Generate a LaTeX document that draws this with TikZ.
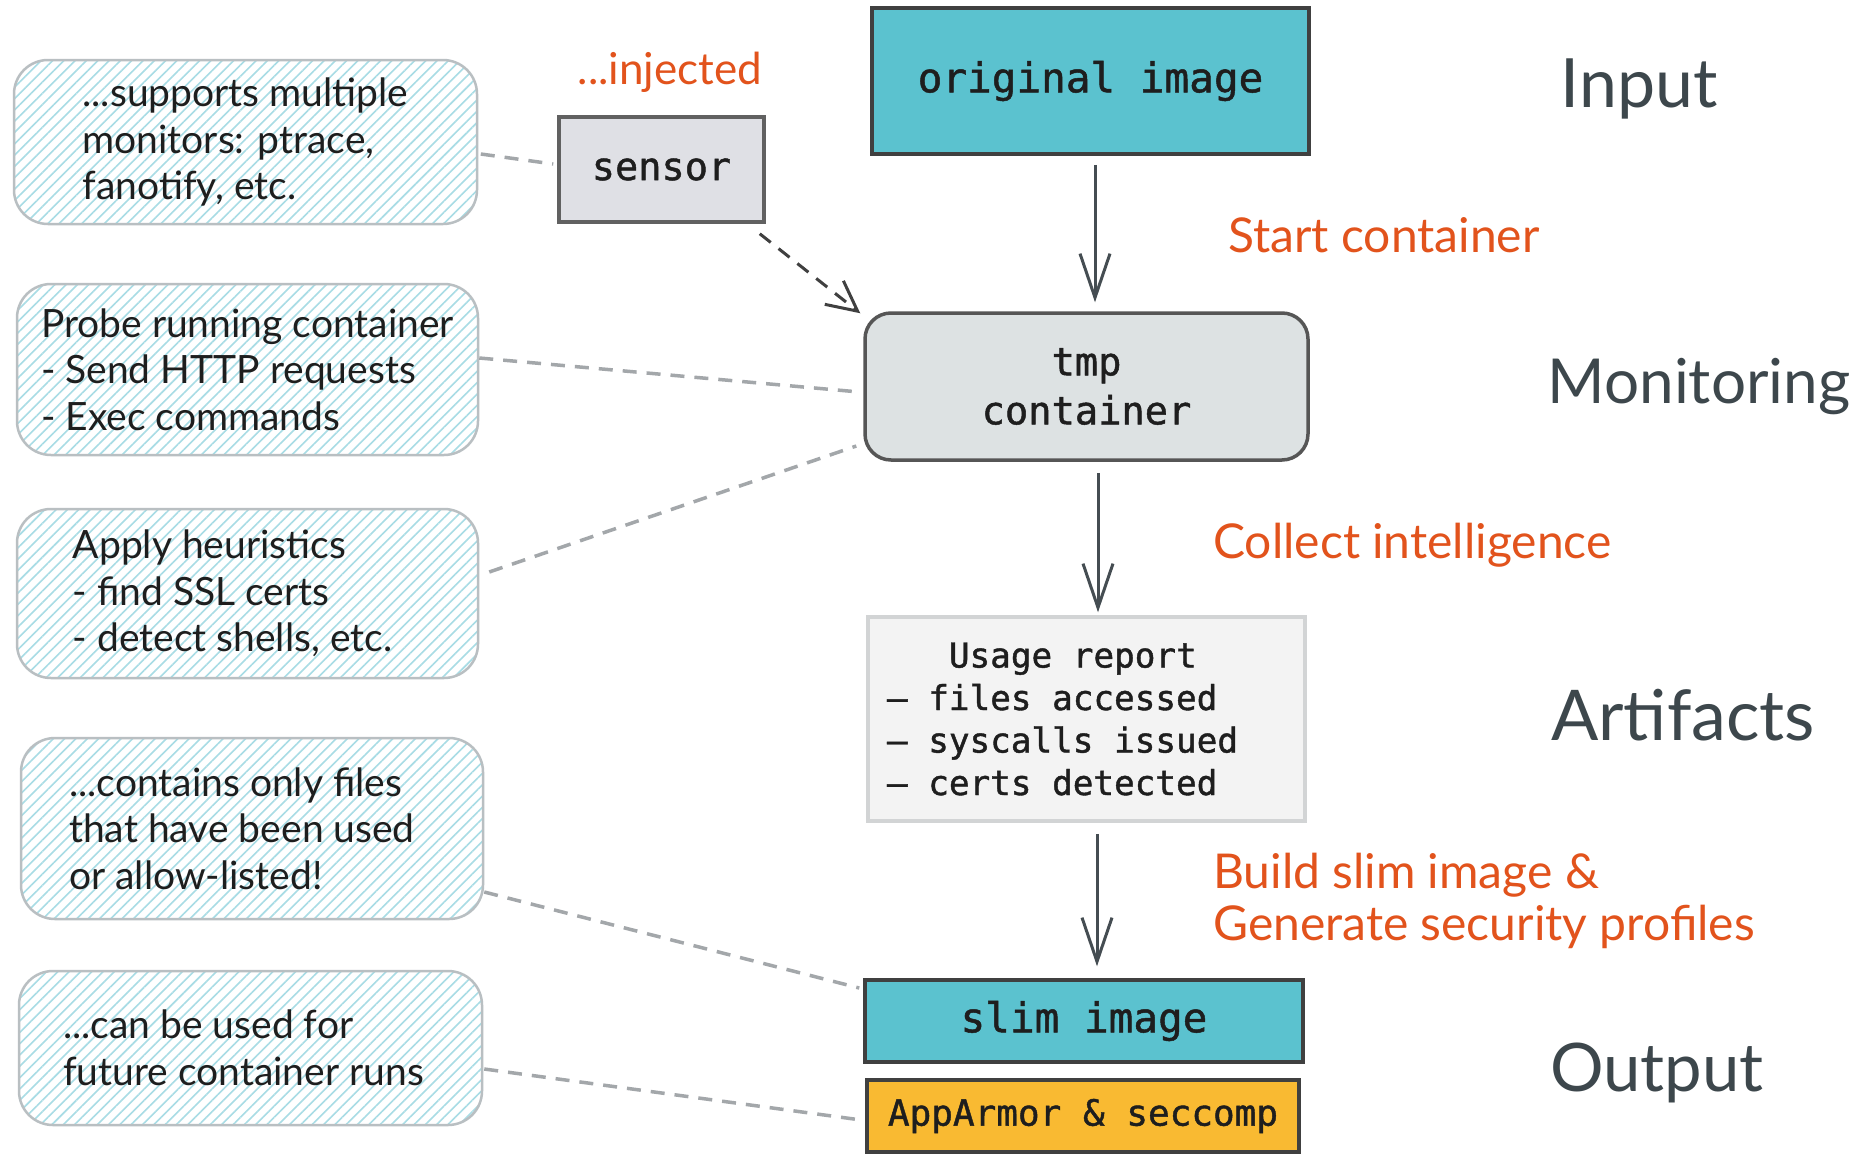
\documentclass[tikz,border=0pt]{standalone}
\usepackage{fontspec}
\setmainfont{Lato}
\setmonofont{DejaVu Sans Mono}[FakeBold=1.2]
\usetikzlibrary{arrows.meta,patterns.meta}
\definecolor{ink}{HTML}{1E1E1E}
\definecolor{cyanfill}{HTML}{5BC2CF}
\definecolor{yellowfill}{HTML}{F9BA32}
\definecolor{sensorfill}{HTML}{DFE0E5}
\definecolor{tmpfill}{HTML}{DDE2E3}
\definecolor{usagefill}{HTML}{F3F3F3}
\definecolor{usageedge}{HTML}{D2D4D5}
\definecolor{orangetext}{HTML}{E2531C}
\definecolor{graytext}{HTML}{3D474C}
\definecolor{hatch}{HTML}{A8DCE5}
\definecolor{noteedge}{HTML}{B9BFC2}
\definecolor{dashgray}{HTML}{A3A7AA}
\definecolor{arrowgray}{HTML}{454D52}
\tikzset{
  mainbox/.style={draw=ink!85, line width=3.5pt, font=\ttfamily, align=center, inner sep=0pt, text=ink},
  note/.style={draw=noteedge, line width=2.5pt, rounded corners=34pt, preaction={fill=white},
    pattern={Lines[angle=45,distance=8pt,line width=1.6pt]}, pattern color=hatch,
    align=left, font=\fontsize{39}{46.5}\selectfont, text=ink, inner sep=0pt},
  stage/.style={text=graytext, inner sep=0pt},
  actlabel/.style={text=orangetext, font=\fontsize{48}{52}\selectfont, align=left, inner sep=0pt},
  flow/.style={draw=arrowgray, line width=3pt, -{Straight Barb[length=44pt,width=30pt,line width=3pt]}},
  inject/.style={draw=ink!85, line width=3pt, dash pattern=on 14pt off 10pt, -{Straight Barb[length=30pt,width=30pt,line width=3pt]}},
  link/.style={draw=dashgray, line width=3.5pt, dash pattern=on 14pt off 10pt},
}
\begin{document}
\begin{tikzpicture}[x=1pt,y=-1pt]
\useasboundingbox (0,0) rectangle (1869,1154);
\fill[white] (0,0) rectangle (1869,1154);

% main flow
\node[mainbox, fill=cyanfill, minimum width=437pt, minimum height=146pt, font=\ttfamily\fontsize{41}{49}\selectfont] (orig) at (1090.5,81) {original image};
\node[mainbox, fill=sensorfill, draw=ink!70, minimum width=205pt, minimum height=105pt, font=\ttfamily\fontsize{38.6}{46}\selectfont] (sensor) at (661.5,169.5) {sensor};
\node[mainbox, fill=tmpfill, draw=ink!75, rounded corners=26pt, minimum width=443pt, minimum height=147pt, font=\ttfamily\fontsize{38.7}{49}\selectfont] (tmp) at (1086.5,386.5) {tmp\\container};
\node[mainbox, fill=usagefill, draw=usageedge, align=left, minimum width=437pt, minimum height=204pt, font=\ttfamily\fontsize{34.3}{42.5}\selectfont] (usage) at (1086.5,719) {\phantom{–––}Usage report\\– files accessed\\– syscalls issued\rule{48pt}{0pt}\\– certs detected};
\node[mainbox, fill=cyanfill, minimum width=438pt, minimum height=82pt, font=\ttfamily\fontsize{41}{49}\selectfont] (slim) at (1084,1021) {slim image};
\node[mainbox, fill=yellowfill, minimum width=432pt, minimum height=72pt, font=\ttfamily\fontsize{36}{43}\selectfont] (armor) at (1083,1116) {AppArmor \& seccomp};

% notes
\node[note, minimum width=463pt, minimum height=164pt] (n1) at (245.5,142) {...supports multiple\\monitors: ptrace,\\fanotify, etc.};
\node[note, minimum width=461pt, minimum height=171pt] (n2) at (247.5,369.5) {Probe running container\\- Send HTTP requests\\- Exec commands};
\node[note, minimum width=461pt, minimum height=169pt] (n3) at (247.5,593.5) {Apply heuristics\\- find SSL certs\\- detect shells, etc.\rule{30pt}{0pt}};
\node[note, minimum width=462pt, minimum height=181pt] (n4) at (252,828.5) {...contains only files\\that have been used\rule{20pt}{0pt}\\or allow-listed!};
\node[note, minimum width=463pt, minimum height=154pt] (n5) at (250.5,1048) {...can be used for\\future container runs\rule{14pt}{0pt}};

% stage labels
\node[stage, font=\fontsize{68}{72}\selectfont] (sIn) at (1639,89) {Input};
\node[stage, font=\fontsize{62}{66}\selectfont] (sMon) at (1699,387) {Monitoring};
\node[stage, font=\fontsize{70}{74}\selectfont] (sArt) at (1683,715) {Artifacts};
\node[stage, font=\fontsize{67}{71}\selectfont] (sOut) at (1657,1073) {Output};

% action labels
\node[actlabel, font=\fontsize{44}{48}\selectfont] (linj) at (670,72) {...injected};
\node[actlabel, anchor=west] (lstart) at (1228,235) {Start container};
\node[actlabel, anchor=west] (lcoll) at (1213,545) {Collect intelligence};
\node[actlabel, anchor=west] (lbuild) at (1213,901) {Build slim image \&\\Generate security profiles};

% connectors
\draw[flow] ([xshift=4.5pt,yshift=-9pt]orig.south) -- ([xshift=8.5pt,yshift=9pt]tmp.north);
\draw[flow] ([xshift=11.5pt,yshift=-11pt]tmp.south) -- ([xshift=11.5pt,yshift=3pt]usage.north);
\draw[flow] ([xshift=10.5pt,yshift=-11pt]usage.south) -- ([xshift=13pt,yshift=12pt]slim.north);
\draw[inject] ([shift={(-6pt,-10pt)}]sensor.south east) -- ([shift={(-3pt,-2pt)}]tmp.north west);

\draw[link] ([shift={(3pt,-12pt)}]n1.east) -- ([shift={(-4pt,5.5pt)}]sensor.west);
\draw[link] ([yshift=11.5pt]n2.east) -- ([shift={(-4pt,-5.5pt)}]tmp.west);
\draw[link] ([shift={(10pt,21.5pt)}]n3.east) -- ([shift={(-7pt,-59.5pt)}]tmp.west);
\draw[link] ([yshift=-63.5pt]n4.east) -- ([shift={(-4pt,33pt)}]slim.west);
\draw[link] ([shift={(1pt,-21pt)}]n5.east) -- ([shift={(-4pt,-4pt)}]armor.west);
\end{tikzpicture}
\end{document}
